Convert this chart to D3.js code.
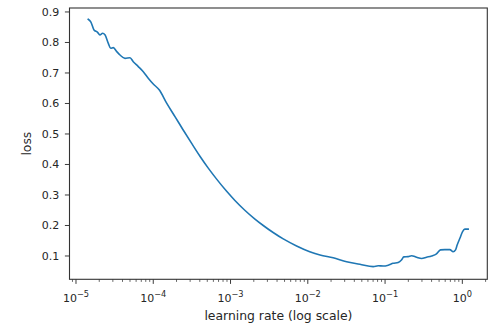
<!DOCTYPE html>
<html>
<head>
<meta charset="utf-8">
<script src="https://cdn.jsdelivr.net/npm/d3@7"></script>
<style>
  html, body { margin: 0; padding: 0; background: #fff; }
  svg { display: block; }
  text { font-family: "DejaVu Sans", sans-serif; fill: #262626; }
</style>
</head>
<body>
<svg id="chart" width="500" height="328"></svg>
<script>
// Learning-rate finder sweep: loss recorded at each learning rate
const learningRates = [
  1.44e-5, 1.56e-5, 1.71e-5, 1.89e-5, 2.04e-5, 2.21e-5, 2.37e-5, 2.62e-5,
  2.81e-5, 3.04e-5, 3.37e-5, 3.71e-5, 4.31e-5, 5.00e-5, 5.51e-5, 6.40e-5,
  7.43e-5, 8.61e-5, 1.00e-4, 1.20e-4, 1.49e-4, 1.91e-4, 2.44e-4, 3.14e-4,
  4.02e-4, 5.15e-4, 6.61e-4, 8.91e-4, 1.14e-3, 1.53e-3, 2.07e-3, 2.65e-3,
  3.56e-3, 4.81e-3, 7.16e-3, 1.06e-2, 1.44e-2, 2.13e-2, 3.18e-2, 4.72e-2,
  7.02e-2, 8.15e-2, 9.44e-2, 0.110, 0.127, 0.148, 0.163, 0.175,
  0.199, 0.220, 0.256, 0.297, 0.344, 0.400, 0.463, 0.522,
  0.594, 0.689, 0.760, 0.817, 0.857, 0.929, 1.007, 1.076, 1.189
];
const losses = [
  0.876, 0.867, 0.841, 0.834, 0.825, 0.830, 0.825, 0.797,
  0.781, 0.783, 0.770, 0.759, 0.748, 0.750, 0.737, 0.721,
  0.704, 0.683, 0.664, 0.644, 0.601, 0.557, 0.513, 0.469,
  0.427, 0.388, 0.352, 0.312, 0.282, 0.250, 0.221, 0.200,
  0.177, 0.156, 0.133, 0.114, 0.103, 0.094, 0.081, 0.073,
  0.065, 0.068, 0.067, 0.070, 0.076, 0.079, 0.087, 0.097,
  0.098, 0.101, 0.096, 0.092, 0.096, 0.100, 0.107, 0.120,
  0.121, 0.121, 0.114, 0.120, 0.136, 0.158, 0.180, 0.188, 0.188
];
const xTickExponents = [-5, -4, -3, -2, -1, 0];
const yTickValues = [0.1, 0.2, 0.3, 0.4, 0.5, 0.6, 0.7, 0.8, 0.9];

const svg = d3.select("#chart");
const plotLeft = 69.5, plotRight = 487.3, plotTop = 8, plotBottom = 279.3;

const x = d3.scaleLog()
  .domain([Math.pow(10, -5.084), Math.pow(10, 0.323)])
  .range([plotLeft, plotRight]);
const y = d3.scaleLinear()
  .domain([0.0236, 0.913])
  .range([plotBottom, plotTop]);

const tickColor = "#262626";
const tickFont = 11;
const labelFont = 12.4;

// minor ticks on the log axis (2..9 within each decade)
const minorTicks = [];
for (let e = -6; e <= 0; e++) {
  for (let m = 2; m <= 9; m++) {
    const v = m * Math.pow(10, e);
    if (v >= x.domain()[0] && v <= x.domain()[1]) minorTicks.push(v);
  }
}
svg.append("g").selectAll("line").data(minorTicks).join("line")
  .attr("x1", d => x(d)).attr("x2", d => x(d))
  .attr("y1", plotBottom).attr("y2", plotBottom + 2.6)
  .attr("stroke", tickColor).attr("stroke-width", 0.7);

// major x ticks with power-of-ten labels
const xt = svg.append("g").selectAll("g").data(xTickExponents).join("g")
  .attr("transform", d => `translate(${x(Math.pow(10, d))},${plotBottom})`);
xt.append("line").attr("y2", 4.6).attr("stroke", tickColor).attr("stroke-width", 0.9);
xt.append("text")
  .attr("y", 22.3)
  .attr("text-anchor", "middle")
  .style("font-size", tickFont + "px")
  .each(function(d) {
    const t = d3.select(this);
    t.append("tspan").text("10");
    t.append("tspan")
      .attr("dy", -5)
      .style("font-size", (tickFont * 0.75) + "px")
      .text(d === 0 ? "0" : "\u2212" + Math.abs(d));
  });

// y ticks
const yt = svg.append("g").selectAll("g").data(yTickValues).join("g")
  .attr("transform", d => `translate(${plotLeft},${y(d)})`);
yt.append("line").attr("x2", -4.6).attr("stroke", tickColor).attr("stroke-width", 0.9);
yt.append("text")
  .attr("x", -10.3)
  .attr("dy", "0.36em")
  .attr("text-anchor", "end")
  .style("font-size", tickFont + "px")
  .text(d => d.toFixed(1));

// loss curve
const line = d3.line()
  .x((d, i) => x(learningRates[i]))
  .y(d => y(d))
  .curve(d3.curveMonotoneX);
svg.append("path")
  .datum(losses)
  .attr("d", line)
  .attr("fill", "none")
  .attr("stroke", "#1f77b4")
  .attr("stroke-width", 1.6)
  .attr("stroke-linejoin", "round")
  .attr("stroke-linecap", "square");

// axes frame
svg.append("rect")
  .attr("x", plotLeft).attr("y", plotTop)
  .attr("width", plotRight - plotLeft).attr("height", plotBottom - plotTop)
  .attr("fill", "none")
  .attr("stroke", "#333")
  .attr("stroke-width", 1.1);

// axis labels
svg.append("text")
  .attr("x", (plotLeft + plotRight) / 2).attr("y", 319.5)
  .attr("text-anchor", "middle")
  .style("font-size", labelFont + "px")
  .text("learning rate (log scale)");
svg.append("text")
  .attr("transform", `translate(31,${(plotTop + plotBottom) / 2}) rotate(-90)`)
  .attr("text-anchor", "middle")
  .style("font-size", labelFont + "px")
  .text("loss");
</script>
</body>
</html>
